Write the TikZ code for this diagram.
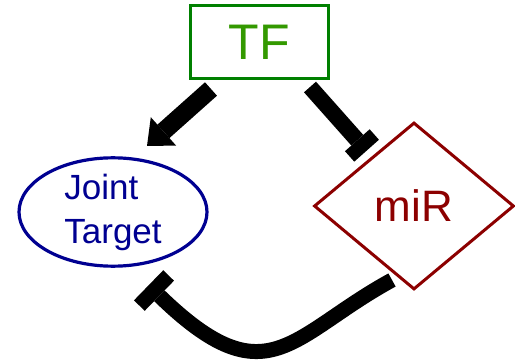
\documentclass[tikz,border=0pt]{standalone}
\usepackage{fontspec}
\setmainfont{Liberation Sans}
\usetikzlibrary{shapes.geometric,arrows.meta}
\definecolor{tfgreen}{RGB}{0,128,0}
\definecolor{tftext}{RGB}{51,153,0}
\definecolor{jtblue}{RGB}{0,0,145}
\definecolor{mirred}{RGB}{140,0,0}
\tikzset{
  tfbox/.style={draw=tfgreen, line width=3pt, minimum width=138pt, minimum height=73pt,
    inner sep=0pt, text=tftext, font=\fontsize{50}{50}\selectfont},
  jtell/.style={ellipse, draw=jtblue, line width=3.2pt, minimum width=188pt, minimum height=94pt,
    inner sep=0pt, text=jtblue, align=left, font=\fontsize{35}{44}\selectfont},
  mirdia/.style={diamond, draw=mirred, line width=3pt, minimum width=200pt, minimum height=167pt,
    inner sep=0pt, text=mirred, font=\fontsize{44}{44}\selectfont},
  activate/.style={line width=18pt, -{Triangle[length=22pt,width=38pt,line width=0pt]}},
  inhibit/.style={line width=16pt, -{Rectangle[length=14pt,width=33pt,line width=0pt]}},
  inhibitcurve/.style={line width=15pt, -{Rectangle[length=15pt,width=42pt,line width=0pt]}},
}
\begin{document}
\begin{tikzpicture}[x=1pt,y=-1pt]
\useasboundingbox (0,0) rectangle (515,361);

% nodes
\node[tfbox] (tf) at (259.5,42) {TF};
\node[jtell] (jt) at (113,212) {Joint\\Target};
\node[mirdia] (mir) at (414,206) {miR};

% connector end points
\coordinate (tfA) at (211,89);
\coordinate (jtA) at (147,146);
\coordinate (tfI) at (310,87);
\coordinate (mirI) at (366.6,150.7);
\coordinate (mirO) at (392,280);
\coordinate (jtI) at (148.6,285.3);

% TF activates the joint target
\draw[activate] (tfA) -- (jtA);
% TF represses the miR
\draw[inhibit] (tfI) -- (mirI);
% miR represses the joint target
\draw[inhibitcurve] (mirO) .. controls (290.8,335.2) and (267.4,400.8) .. (jtI);
\end{tikzpicture}
\end{document}
